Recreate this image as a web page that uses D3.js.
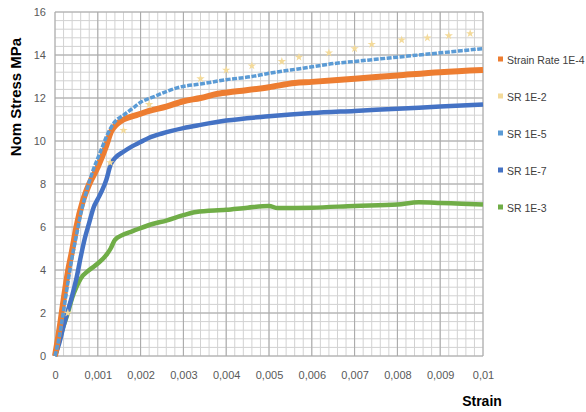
<!DOCTYPE html>
<html><head><meta charset="utf-8">
<script src="https://cdn.jsdelivr.net/npm/d3@7"></script>
<style>
html,body{margin:0;padding:0;background:#fff;}
svg{display:block;}
</style></head>
<body>
<svg id="chart" width="586" height="412"></svg>
<script>
// ---- data ----
const seriesNames = ["Strain Rate 1E-4","SR 1E-2","SR 1E-5","SR 1E-7","SR 1E-3"];
const xTicks = [0,0.001,0.002,0.003,0.004,0.005,0.006,0.007,0.008,0.009,0.01];
const xTickLabels = ["0","0,001","0,002","0,003","0,004","0,005","0,006","0,007","0,008","0,009","0,01"];
const yTicks = [0,2,4,6,8,10,12,14,16];
const yTickLabels = ["0","2","4","6","8","10","12","14","16"];

// Strain Rate 1E-4 (orange)
const sr1e4 = [[0,0],[0.0001,1.2],[0.0002,2.6],[0.0003,3.9],[0.0004,4.9],[0.0005,6.0],[0.00065,7.2],[0.0008,8.0],[0.001,8.8],[0.0012,9.8],[0.0013,10.4],[0.00145,10.8],[0.0016,11.0],[0.0019,11.2],[0.0022,11.4],[0.0026,11.6],[0.003,11.85],[0.0034,12.0],[0.0038,12.2],[0.0042,12.3],[0.005,12.5],[0.0056,12.7],[0.006,12.75],[0.007,12.9],[0.008,13.05],[0.009,13.2],[0.01,13.3]];
// SR 1E-2 (yellow, sparse markers)
const sr1e2 = [[0.0003,2.0],[0.00129,9.0],[0.0016,10.5],[0.0022,11.7],[0.0034,12.9],[0.004,13.3],[0.0046,13.5],[0.0053,13.7],[0.0057,13.9],[0.0064,14.1],[0.007,14.3],[0.0074,14.5],[0.0081,14.7],[0.0087,14.8],[0.0092,14.9],[0.0097,15.0]];
// SR 1E-5 (light blue)
const sr1e5 = [[0,0],[0.0001,0.9],[0.0002,2.1],[0.0003,3.4],[0.0004,4.6],[0.0005,5.6],[0.0006,6.6],[0.0007,7.4],[0.0008,8.1],[0.0009,8.7],[0.001,9.2],[0.0011,9.7],[0.0012,10.2],[0.0013,10.6],[0.0014,10.9],[0.0016,11.2],[0.0018,11.5],[0.002,11.8],[0.0023,12.05],[0.0026,12.3],[0.0029,12.5],[0.0034,12.65],[0.004,12.85],[0.0046,13.0],[0.005,13.15],[0.0055,13.3],[0.006,13.45],[0.0065,13.6],[0.007,13.7],[0.0075,13.8],[0.008,13.9],[0.0085,14.0],[0.009,14.1],[0.0095,14.2],[0.01,14.3]];
// SR 1E-7 (dark blue)
const sr1e7 = [[0,0],[0.0001,0.6],[0.0002,1.4],[0.0003,2.1],[0.0004,2.8],[0.0005,3.6],[0.0006,4.6],[0.0007,5.5],[0.0008,6.2],[0.0009,6.9],[0.001,7.3],[0.0011,7.7],[0.0012,8.2],[0.0013,8.9],[0.0014,9.2],[0.0016,9.5],[0.0018,9.75],[0.002,9.95],[0.0022,10.15],[0.0025,10.35],[0.003,10.6],[0.0034,10.75],[0.004,10.95],[0.005,11.15],[0.006,11.3],[0.007,11.4],[0.008,11.5],[0.009,11.6],[0.01,11.7]];
// SR 1E-3 (green)
const sr1e3 = [[0,0],[0.0001,0.7],[0.0002,1.4],[0.0003,2.0],[0.0004,2.7],[0.0005,3.2],[0.0006,3.6],[0.0008,4.0],[0.001,4.3],[0.0012,4.7],[0.0013,5.0],[0.0014,5.4],[0.0016,5.65],[0.0018,5.8],[0.002,5.95],[0.0023,6.15],[0.0026,6.3],[0.003,6.55],[0.0033,6.7],[0.004,6.8],[0.0045,6.9],[0.005,6.98],[0.0052,6.88],[0.006,6.9],[0.007,6.98],[0.008,7.05],[0.0085,7.15],[0.009,7.12],[0.0095,7.08],[0.01,7.05]];

// ---- layout ----
const svg = d3.select("#chart");
const L = 55, R = 483, T = 12, B = 356;
const x = d3.scaleLinear().domain([0,0.01]).range([L,R]);
const y = d3.scaleLinear().domain([0,16]).range([B,T]);
const FONT = "'Liberation Sans', Arial, sans-serif";

const colors = {o:"#ED7D31", yl:"#F3DA9A", lb:"#5B9BD5", db:"#4472C4", g:"#70AD47"};

// minor grid
const g = svg.append("g");
g.selectAll("line.mx").data(d3.range(0,51).map(i=>i*0.0002)).join("line")
  .attr("x1",d=>x(d)).attr("x2",d=>x(d)).attr("y1",T).attr("y2",B)
  .attr("stroke","#d2d2d2").attr("stroke-width",1);
g.selectAll("line.my").data(d3.range(0,41).map(i=>i*0.4)).join("line")
  .attr("y1",d=>y(d)).attr("y2",d=>y(d)).attr("x1",L).attr("x2",R)
  .attr("stroke","#d2d2d2").attr("stroke-width",1);
// major grid
g.selectAll("line.Mx").data(xTicks).join("line")
  .attr("x1",d=>x(d)).attr("x2",d=>x(d)).attr("y1",T).attr("y2",B)
  .attr("stroke","#a8a8a8").attr("stroke-width",1);
g.selectAll("line.My").data(yTicks).join("line")
  .attr("y1",d=>y(d)).attr("y2",d=>y(d)).attr("x1",L).attr("x2",R)
  .attr("stroke","#a8a8a8").attr("stroke-width",1);

// axes (tick labels)
const xAxis = d3.axisBottom(x).tickValues(xTicks).tickFormat((d,i)=>xTickLabels[i]).tickSize(0).tickPadding(15);
const yAxis = d3.axisLeft(y).tickValues(yTicks).tickFormat((d,i)=>yTickLabels[i]).tickSize(0).tickPadding(9);
const gx = svg.append("g").attr("transform",`translate(0,${B})`).call(xAxis);
const gy = svg.append("g").attr("transform",`translate(${L},0)`).call(yAxis);
[gx,gy].forEach(a=>{
  a.select(".domain").remove();
  a.selectAll("text").attr("font-family",FONT).attr("font-size",11).attr("fill","#595959");
});

// series lines
const line = d3.line().x(d=>x(d[0])).y(d=>y(d[1])).curve(d3.curveMonotoneX);
svg.append("path").datum(sr1e3).attr("d",line).attr("fill","none").attr("stroke",colors.g).attr("stroke-width",4.5);
svg.append("path").datum(sr1e7).attr("d",line).attr("fill","none").attr("stroke",colors.db).attr("stroke-width",4.5);
svg.append("path").datum(sr1e4).attr("d",line).attr("fill","none").attr("stroke",colors.o).attr("stroke-width",6);
svg.append("path").datum(sr1e5).attr("d",line).attr("fill","none").attr("stroke",colors.lb).attr("stroke-width",3.5)
  .attr("stroke-dasharray","5,1.5");

// yellow markers
svg.selectAll("path.y2").data(sr1e2).join("path")
  .attr("transform",d=>`translate(${x(d[0])},${y(d[1])})`)
  .attr("d",d3.symbol(d3.symbolStar,22))
  .attr("fill",colors.yl);

// axis titles
svg.append("text").attr("transform","translate(21,97) rotate(-90)")
  .attr("text-anchor","middle").attr("font-family",FONT).attr("font-weight","bold")
  .attr("font-size",15).attr("fill","#000").text("Nom Stress MPa");
svg.append("text").attr("x",482).attr("y",406).attr("text-anchor","middle")
  .attr("font-family",FONT).attr("font-weight","bold").attr("font-size",14).attr("fill","#000").text("Strain");

// legend
const legColors = [colors.o, colors.yl, colors.lb, colors.db, colors.g];
const leg = svg.append("g");
seriesNames.forEach((n,i)=>{
  const yy = 60 + i*37;
  leg.append("rect").attr("x",498).attr("y",yy-3.5).attr("width",5).attr("height",5).attr("fill",legColors[i]);
  leg.append("text").attr("x",507).attr("y",yy).attr("dy","0.35em")
    .attr("font-family",FONT).attr("font-size",10.5).attr("fill","#404040").text(n);
});
</script>
</body></html>
